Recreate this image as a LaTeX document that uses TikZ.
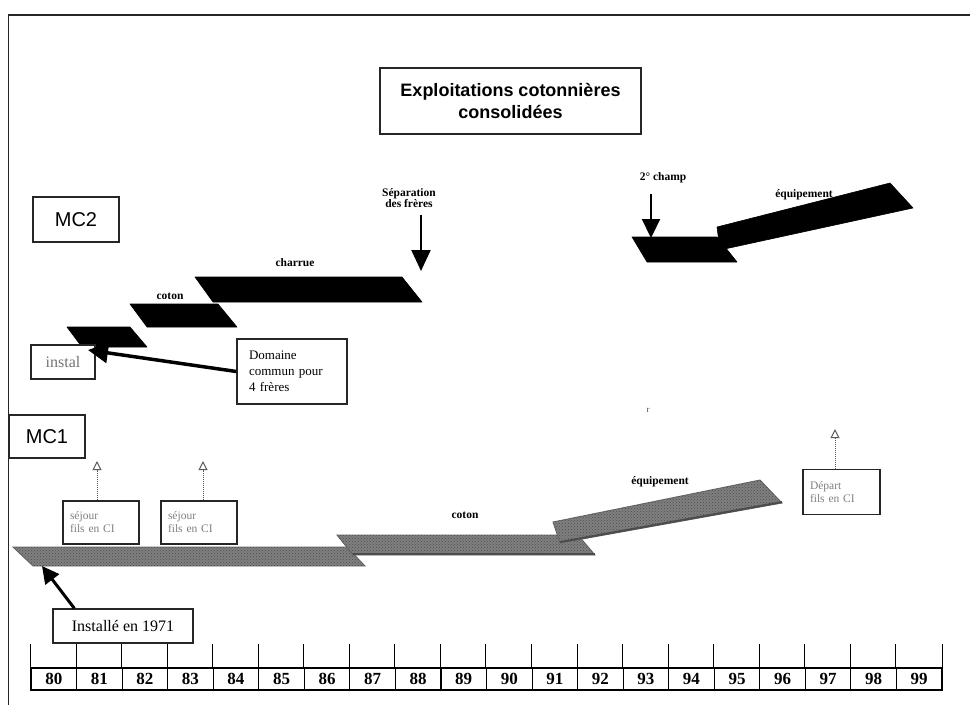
\documentclass[tikz,border=0pt]{standalone}
\usepackage{fontspec}
\setmainfont{Liberation Serif}
\newfontfamily\headfont{Liberation Sans}
\usetikzlibrary{arrows.meta,patterns}
\begin{document}
\begin{tikzpicture}[x=1pt,y=-1pt,
  frame/.style={line width=1.8pt, black!85},
  box/.style={draw=black!85, line width=1.3pt, fill=white, inner sep=0pt, rectangle},
  darkbar/.style={fill=black, draw=black, line width=0.6pt, line join=round},
  greybar/.style={fill=black!50, draw=black!60, line width=0.9pt,
    postaction={pattern=crosshatch dots, pattern color=black!70}},
  rim/.style={line width=2pt, black!70},
  lbl/.style={font=\fontsize{11.5}{11}\selectfont\bfseries, inner sep=0pt},
  smalltxt/.style={font=\fontsize{11.5}{13}\selectfont, text=black!50, align=left},
  bigarrow/.style={line width=2.2pt, -{Triangle[length=21pt,width=19pt]}},
  fatarrow/.style={line width=3.5pt, -{Triangle[length=20pt,width=20pt]}},
  dotarrow/.style={densely dotted, line width=1pt, black!65, -{Triangle[open,length=9pt,width=9pt]}},
  yearcell/.style={draw, line width=1.1pt, minimum width=45.55pt, minimum height=22pt,
    inner sep=0pt, font=\fontsize{17}{17}\selectfont\bfseries},
]
\useasboundingbox (0,0) rectangle (970,705);

% page frame (top and left edges)
\draw[frame] (970,15) -- (8.5,15) -- (8.5,705);

% heading
\node[box, minimum width=261pt, minimum height=66pt, align=center,
  font=\headfont\bfseries\fontsize{18}{22}\selectfont] (title) at (510.5,101)
  {Exploitations cotonnières\\consolidées};

% ---------------- MC2 ----------------
\node[box, minimum width=86pt, minimum height=45pt,
  font=\headfont\fontsize{20}{20}\selectfont] (mc2) at (76,219.5) {MC2};

\fill[darkbar] (67,327) -- (130,327) -- (147,347) -- (82,347) -- cycle;
\fill[darkbar] (130,304) -- (218,304) -- (237,327) -- (147,327) -- cycle;
\fill[darkbar] (195,277) -- (402,277) -- (422,302) -- (213,302) -- cycle;
\fill[darkbar] (632,237) -- (717,237) -- (737,262) -- (647,262) -- cycle;
\fill[darkbar] (717,227) -- (890,183) -- (913,208) -- (720,250) -- cycle;

\node[lbl] (cotonB) at (170,296) {coton};
\node[lbl] (charrue) at (295,263) {charrue};
\node[lbl, align=center] (sep) at (409,198) {Séparation\\des frères};
\node[lbl] (champ) at (663,178) {2° champ};
\node[lbl] (equipB) at (804,195) {équipement};

\coordinate (sepTail) at (421,215);
\coordinate (sepTip) at (421,271);
\draw[bigarrow] (sepTail) -- (sepTip);
\coordinate (champTail) at (651,194);
\coordinate (champTip) at (651,238);
\draw[line width=2.2pt, -{Triangle[length=19pt,width=18pt]}] (champTail) -- (champTip);

\node[box, minimum width=64pt, minimum height=34pt, text=black!55,
  font=\fontsize{16}{16}\selectfont] (instal) at (63,362) {instal};
\node[box, minimum height=65pt, text width=86pt, inner xsep=12pt, align=left,
  font=\fontsize{13}{16}\selectfont] (domaine) at (292,371.5)
  {Domaine\\commun pour\\4 frères};
\coordinate (commonTip) at (88,350);
\draw[fatarrow] (domaine.west) -- (commonTip);

% ---------------- MC1 ----------------
\node[box, minimum width=76pt, minimum height=43pt,
  font=\headfont\fontsize{20}{20}\selectfont] (mc1) at (47,436.5) {MC1};

\node[font=\fontsize{9}{9}\selectfont, text=black!70, inner sep=0pt] (stray) at (648,410) {r};

\path[greybar] (13,547) -- (347,547) -- (365,566) -- (33,566) -- cycle;
\path[greybar] (337,535) -- (578,535) -- (595,555) -- (353,555) -- cycle;
\draw[rim] (353,554) -- (595,554);
\path[greybar] (553,522) -- (760,480) -- (782,503) -- (560,543) -- cycle;
\draw[rim] (560,542) -- (782,502);

\node[lbl] (cotonA) at (465,515) {coton};
\node[lbl] (equipA) at (660,482) {équipement};

\node[box, minimum width=76pt, minimum height=43pt, text width=62pt, inner xsep=7pt,
  smalltxt] (sej1) at (101,522.5) {séjour\\fils en CI};
\node[box, minimum width=76pt, minimum height=43pt, text width=62pt, inner xsep=7pt,
  smalltxt] (sej2) at (199,522.5) {séjour\\fils en CI};
\node[box, minimum width=77pt, minimum height=45pt, text width=63pt, inner xsep=7pt,
  smalltxt] (depart) at (841.5,492) {Départ\\fils en CI};

\coordinate (sej1up) at (97,461);
\coordinate (sej2up) at (203,461);
\coordinate (departup) at (835,429);
\draw[dotarrow] (sej1.north -| sej1up) -- (sej1up);
\draw[dotarrow] (sej2.north -| sej2up) -- (sej2up);
\draw[dotarrow] (depart.north -| departup) -- (departup);

\node[box, minimum width=140pt, minimum height=34pt,
  font=\fontsize{16}{16}\selectfont] (inst) at (123,626) {Installé en 1971};
\coordinate (instTip) at (42,566);
\draw[line width=3pt, -{Triangle[length=17pt,width=17pt]}] ([xshift=22pt]inst.north west) -- (instTip);

% ---------------- year scale ----------------
\foreach \i in {0,...,19} {
  \pgfmathtruncatemacro\yr{80+\i}
  \node[yearcell] (y\i) at ({31+45.55*\i+22.775},679) {\yr};
  \draw[line width=1pt] (y\i.north west) -- ++(0,-23);
}
\draw[line width=1pt] (y19.north east) -- ++(0,-23);

\end{tikzpicture}
\end{document}
